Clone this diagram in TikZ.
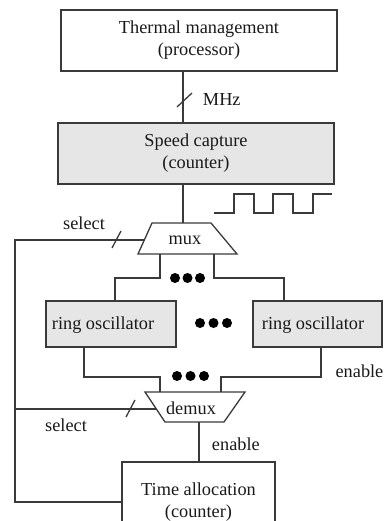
\documentclass[tikz,border=0pt]{standalone}
\usepackage{fontspec}
\setmainfont{Liberation Serif}
\definecolor{ink}{HTML}{3A3A3A}
\definecolor{boxgray}{HTML}{E6E6E6}
\begin{document}
\begin{tikzpicture}[x=1pt,y=-1pt,
  line width=1.3pt, draw=ink,
  every node/.style={font=\fontsize{18.3}{22}\selectfont, text=black!90},
  block/.style={draw=ink, line width=1.4pt, inner sep=0pt, align=center},
  shaded/.style={block, fill=boxgray},
  wire/.style={draw=ink, line width=1.3pt},
  dot/.style={fill=black, draw=none}
]
\useasboundingbox (0,0) rectangle (385,521);
\clip (0,0) rectangle (385,521);

% blocks
\node[block, minimum width=276pt, minimum height=61pt] (thermal) at (199,40.5)
  {Thermal management\\(processor)};
\node[shaded, minimum width=276pt, minimum height=61pt] (speed) at (196,153.5)
  {Speed capture\\(counter)};
\node[shaded, minimum width=130pt, minimum height=46pt] (roL) at (111,324) {};
\node at (103,325) {ring oscillator};
\node[shaded, minimum width=129pt, minimum height=46pt] (roR) at (317.5,324) {};
\node at (313,325) {ring oscillator};
\node[block, minimum width=153pt, minimum height=80pt] (alloc) at (198.5,502)
  {Time allocation\\(counter)};

% mux / demux trapezoids
\draw[line width=1.3pt] (152,223) -- (211,223) -- (237,254) -- (138,254) -- cycle;
\node (mux) at (185,240) {mux};
\draw[line width=1.3pt] (145,392) -- (245,392) -- (224,422) -- (165,422) -- cycle;
\node (demux) at (191,408) {demux};

% connection points on the trapezoids
\coordinate (muxIn) at (183,223);
\coordinate (muxSel) at (144.5,240);
\coordinate (muxOutL) at (160,254);
\coordinate (muxOutR) at (214,254);
\coordinate (dmxInL) at (160,392);
\coordinate (dmxInR) at (221,392);
\coordinate (dmxSel) at (156,409);
\coordinate (dmxOut) at (199,422);
\coordinate (rail) at (15,240);

% frequency bus
\draw[wire] (thermal.south -| muxIn) -- (speed.north -| muxIn);
\draw[wire] (177,107) -- (192,93);
\node[anchor=west] (mhz) at (199,100) {MHz};

% counter to mux
\draw[wire] (speed.south -| muxIn) -- (muxIn);

% square wave
\draw[wire, line width=1.2pt] (214,213) -- (234,213) -- (234,194) -- (254,194) -- (254,213)
  -- (273,213) -- (273,194) -- (293,194) -- (293,213) -- (313,213) -- (313,194) -- (332,194);

% select lines
\draw[wire] (muxSel) -- (rail) -- (rail |- alloc.west) -- (alloc.west);
\draw[wire] (112,248) -- (121,231);
\node (sel1) at (84,223) {select};
\draw[wire] (dmxSel) -- (rail |- dmxSel);
\draw[wire] (126,417) -- (135,400);
\node (sel2) at (66,425) {select};

% mux to oscillators
\draw[wire] (muxOutL) |- (115,278) -- (roL.north -| 115,0);
\draw[wire] (muxOutR) |- (284,278) -- (roR.north -| 284,0);

% oscillators to demux
\draw[wire] (roL.south -| 84,0) |- (160,377) -- (dmxInL);
\draw[wire] (roR.south -| 321,0) |- (221,377) -- (dmxInR);

% demux to allocation counter
\draw[wire] (dmxOut) -- (alloc.north -| dmxOut);
\node[anchor=west] (en1) at (208,444) {enable};
\node[anchor=east, inner xsep=1pt] (en2) at (385,371) {enable};

% ellipses
\foreach \cx/\cy in {175/278, 187.5/278, 200/278,
                     200/323, 213.5/323, 227/323,
                     177/376, 190.5/376, 204/376}
  \fill[dot] (\cx,\cy) circle (5pt);
\end{tikzpicture}
\end{document}
